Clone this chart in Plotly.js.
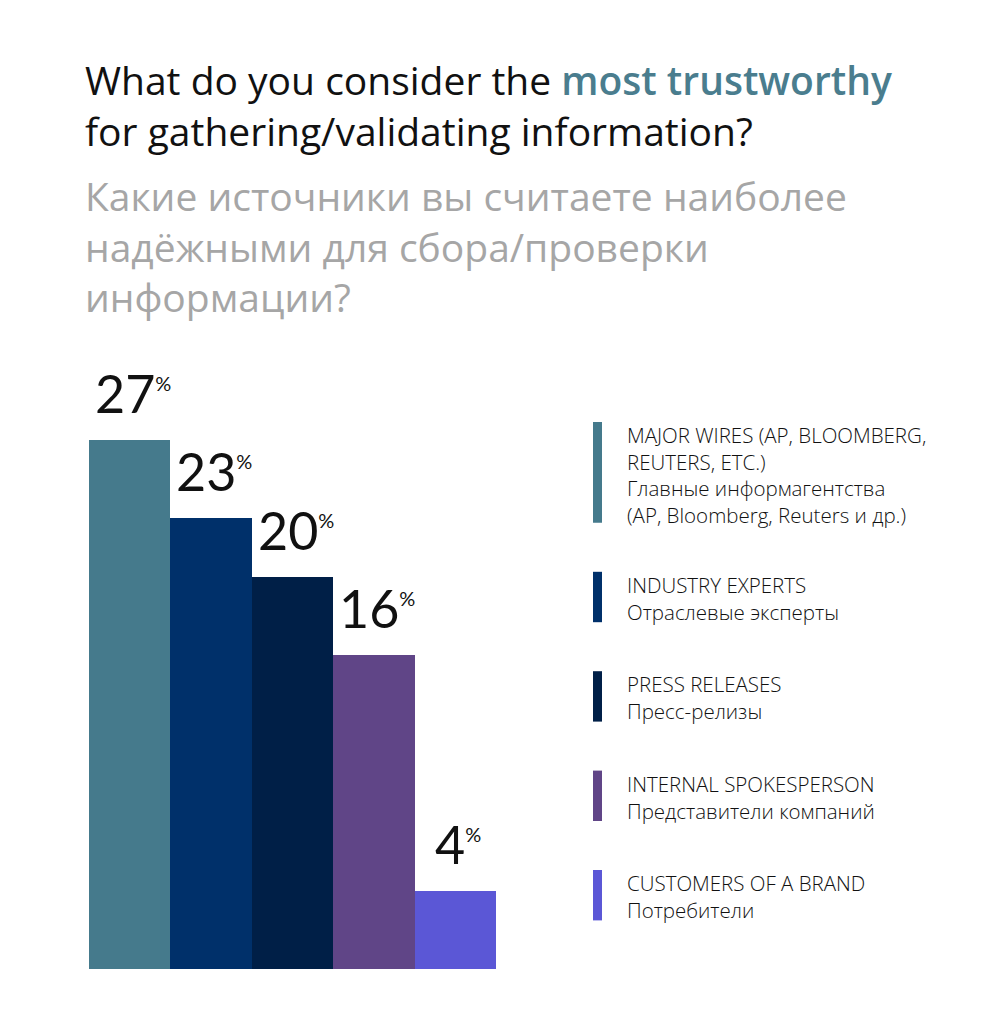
<!DOCTYPE html>
<html>
<head>
<meta charset="utf-8">
<script src="https://cdn.plot.ly/plotly-3.0.1.min.js"></script>
<style>html,body{margin:0;padding:0;background:#fff;}#chart{width:997px;height:1024px;}</style>
</head>
<body>
<div id="chart"></div>
<script>
// ---- data ----
const categories = ["MAJOR WIRES", "INDUSTRY EXPERTS", "PRESS RELEASES", "INTERNAL SPOKESPERSON", "CUSTOMERS OF A BRAND"];
const values = [27, 23, 20, 16, 4];
const colors = ["#457a8c", "#00306a", "#001f47", "#604587", "#5b57d6"];
const legendEn = ["MAJOR WIRES (AP, BLOOMBERG,<br>REUTERS, ETC.)", "INDUSTRY EXPERTS", "PRESS RELEASES", "INTERNAL SPOKESPERSON", "CUSTOMERS OF A BRAND"];
const legendRu = ["Главные информагентства<br>(AP, Bloomberg, Reuters и др.)", "Отраслевые эксперты", "Пресс-релизы", "Представители компаний", "Потребители"];
const titleLines = [
  "What do you consider the <span style='font-weight:600;color:#4a7d8e'>most trustworthy</span>",
  "for gathering/validating information?"
];
const subtitleLines = [
  "Какие источники вы считаете наиболее",
  "надёжными для сбора/проверки",
  "информации?"
];

// ---- geometry helpers (pixel -> paper) ----
const W = 997, H = 1024;
const M = {l: 89, r: 501, t: 381, b: 55};
const PW = W - M.l - M.r, PH = H - M.t - M.b;
const px = x => (x - M.l) / PW;
const py = y => (H - M.b - y) / PH;

const FONT = "'Open Sans', Lato, sans-serif";
const NUMFONT = "Lato, 'Open Sans', sans-serif";
const annotations = [];
const shapes = [];

// value labels
values.forEach((v, i) => {
  annotations.push({
    xref: 'x', yref: 'y', x: i, y: v, xanchor: 'center', yanchor: 'bottom',
    xshift: 3, yshift: 14, showarrow: false,
    text: v + "<sup><span style='font-size:20px'>%</span></sup>",
    font: {family: NUMFONT, size: 52, color: '#111'}
  });
});

// title and subtitle
const TS = 39;
annotations.push({
  xref: 'paper', yref: 'paper', x: px(83), y: py(146), xanchor: 'left', yanchor: 'bottom',
  yshift: -13, showarrow: false, align: 'left', text: titleLines.join("<br>"),
  font: {family: FONT, size: TS, color: '#111'}
});
annotations.push({
  xref: 'paper', yref: 'paper', x: px(83), y: py(313), xanchor: 'left', yanchor: 'bottom',
  yshift: -12, showarrow: false, align: 'left', text: subtitleLines.join("<br>"),
  font: {family: FONT, size: TS, color: '#a6a6a6'}
});

// legend
const LINE = 25.2;
let entryTop = 422;
categories.forEach((c, i) => {
  const nLines = (legendEn[i] + "<br>" + legendRu[i]).split("<br>").length;
  const h = nLines * LINE;
  shapes.push({
    type: 'rect', xref: 'paper', yref: 'paper', x0: px(593), x1: px(602), y0: py(entryTop), y1: py(entryTop + h),
    fillcolor: colors[i], line: {width: 0}
  });
  annotations.push({
    xref: 'paper', yref: 'paper', x: px(625), y: py(entryTop), xanchor: 'left', yanchor: 'top',
    yshift: 3, showarrow: false, align: 'left',
    text: legendEn[i] + "<br>" + legendRu[i],
    font: {family: FONT, size: 20.5, weight: 300, color: '#111'}
  });
  entryTop += h + 49;
});

const trace = {
  type: 'bar', x: categories, y: values,
  marker: {color: colors, line: {width: 0}},
  hoverinfo: 'skip', showlegend: false
};

const layout = {
  width: W, height: H,
  margin: M,
  paper_bgcolor: '#fff', plot_bgcolor: '#fff',
  bargap: 0,
  xaxis: {visible: false, type: 'category', range: [-0.5, 4.5], fixedrange: true},
  yaxis: {visible: false, range: [0, 30], fixedrange: true},
  showlegend: false,
  annotations: annotations,
  shapes: shapes,
  font: {family: FONT}
};

Plotly.newPlot('chart', [trace], layout, {displayModeBar: false, staticPlot: true});
</script>
</body>
</html>
